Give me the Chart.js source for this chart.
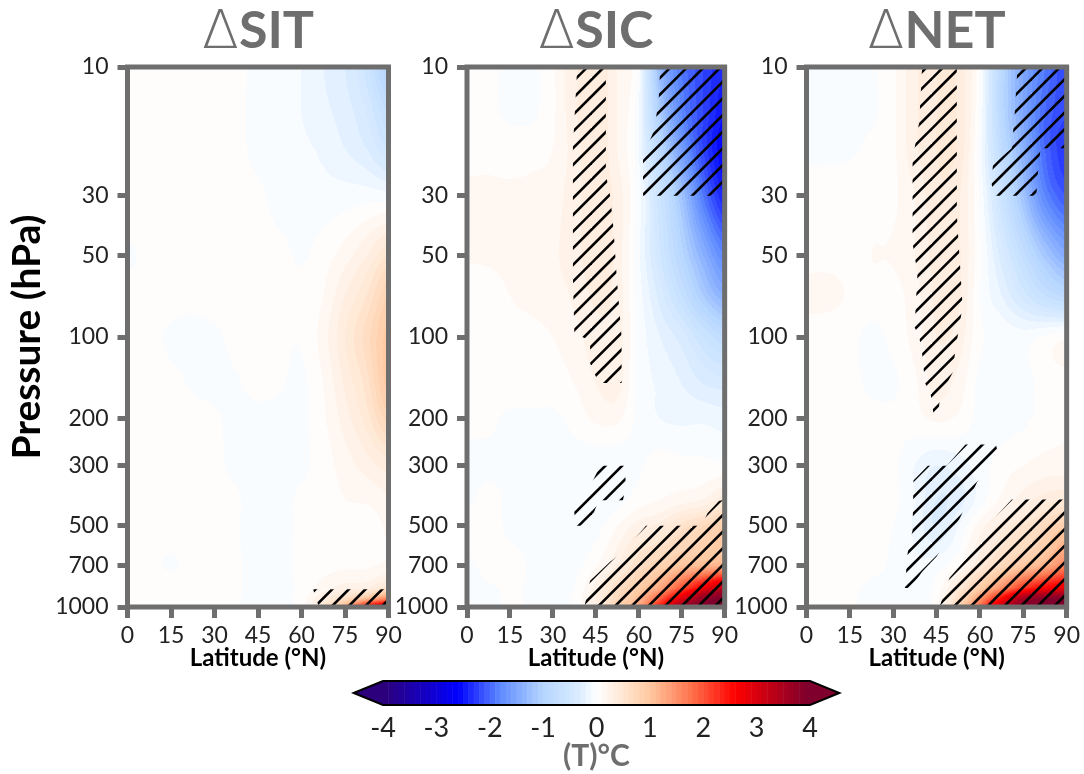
<!DOCTYPE html>
<html>
<head>
<meta charset="utf-8">
<title>Temperature response</title>
<script src="https://cdn.jsdelivr.net/npm/chart.js@4"></script>
<style>
  html, body { margin: 0; padding: 0; background: #fff; }
  body { width: 1084px; height: 774px; position: relative; overflow: hidden; }
  canvas { position: absolute; }
</style>
</head>
<body>
<canvas id="panelSit" width="412" height="680" style="left:0;top:0;width:412px;height:680px"></canvas>
<canvas id="panelSic" width="350" height="680" style="left:392px;top:0;width:350px;height:680px"></canvas>
<canvas id="panelNet" width="352" height="680" style="left:732px;top:0;width:352px;height:680px"></canvas>
<canvas id="colorBar" width="510" height="104" style="left:340px;top:670px;width:510px;height:104px"></canvas>
<script>
const latitudes = [0, 7.5, 15, 22.5, 30, 37.5, 45, 52.5, 60, 67.5, 75, 82.5, 90];
const levels = [10, 15, 20, 30, 50, 70, 100, 150, 200, 300, 400, 500, 700, 850, 925, 1000];
const latTicks = [0, 15, 30, 45, 60, 75, 90];
const pressureTicks = [10, 30, 50, 100, 200, 300, 500, 700, 1000];
const barTicks = [-4, -3, -2, -1, 0, 1, 2, 3, 4];

// one row per pressure level, one column per latitude
const sitValues = [
  [.05, .05, .05, .05, .05, .04, -.04, -.06, -.1, -.2, -.3, -.55, -1],
  [.05, .05, .05, .05, .05, .03, -.04, -.06, -.1, -.17, -.25, -.4, -.7],
  [.05, .05, .05, .05, .05, .03, -.03, -.05, -.08, -.12, -.2, -.3, -.5],
  [.05, .05, .05, .05, .05, .04, .02, -.04, -.06, -.06, -.05, -.04, -.05],
  [-.01, .02, .05, .05, .05, .05, .05, .03, -.01, .05, .15, .3, .5],
  [.03, .05, .05, .03, .05, .05, .05, .05, .02, .1, .3, .5, .8],
  [.05, .04, -.02, -.03, -.02, .03, .05, .03, .01, .15, .4, .65, .95],
  [.05, .05, .03, -.01, -.02, -.01, .03, .01, -.02, .1, .32, .55, .95],
  [.05, .05, .04, .03, .01, -.02, -.03, -.03, -.02, .08, .25, .45, .75],
  [.05, .05, .05, .04, .02, -.02, -.03, -.03, -.02, .05, .15, .25, .35],
  [.05, .05, .05, .04, .03, .01, -.04, -.03, .02, .06, .1, .12, .18],
  [.05, .05, .05, .04, .03, .01, -.06, -.03, .02, .06, .08, .04, .12],
  [.05, .03, -.01, .03, .03, .01, -.03, -.02, .02, .06, .08, .08, .12],
  [.05, .05, .05, .04, .03, .01, -.03, -.02, .02, .15, .25, .3, .5],
  [.03, .05, .05, .04, .03, .01, -.04, -.03, .05, .3, .6, 1, 1.5],
  [.03, .05, .05, .04, .03, .01, -.06, -.04, .05, .5, 1.2, 2.5, 3.2]
];
const sicValues = [
  [.05, .03, -.03, -.03, .08, .28, .38, .2, -.05, -1.3, -1.9, -2.2, -2.4],
  [.05, .03, -.02, -.02, .08, .28, .38, .2, -.1, -1.1, -1.8, -2.2, -2.5],
  [.08, .08, .07, .07, .1, .25, .38, .2, -.1, -.9, -1.6, -2.2, -2.6],
  [.11, .11, .11, .12, .15, .26, .36, .26, -.05, -.6, -1.2, -1.9, -2.4],
  [.11, .11, .12, .14, .18, .26, .36, .26, -.08, -.5, -.95, -1.4, -1.8],
  [.05, .07, .1, .12, .15, .22, .32, .26, -.05, -.35, -.7, -1.1, -1.4],
  [.08, .08, .08, .08, .1, .16, .26, .26, -.03, -.2, -.35, -.6, -.8],
  [.06, .06, .06, .06, .06, .1, .2, .24, -.03, -.12, -.2, -.3, -.35],
  [.02, .02, -.02, -.02, -.02, .03, .12, .12, -.03, -.1, -.12, -.12, -.15],
  [-.02, -.02, -.02, -.02, -.02, -.05, -.08, -.08, -.02, .05, .03, .03, .02],
  [-.02, .03, -.02, -.03, -.03, -.06, -.08, -.04, .05, .1, .15, .2, .35],
  [.04, .05, -.02, -.02, -.03, -.05, -.04, .1, .25, .35, .55, .7, .9],
  [-.02, .03, .03, -.01, -.03, -.03, .08, .3, .6, .8, 1, 1.1, 1.2],
  [-.04, -.01, .01, -.01, -.02, 0, .25, .6, .9, 1.3, 2, 2.7, 3.3],
  [-.05, -.02, .01, -.01, -.02, .02, .3, .7, 1.1, 1.9, 2.9, 3.7, 3.9],
  [-.05, -.03, .01, -.01, -.02, .03, .3, .8, 1.3, 2.4, 3.7, 3.9, 3.95]
];
const netValues = [
  [-.03, -.03, -.03, -.02, .08, .28, .4, .38, 0, -.9, -1.5, -1.9, -2.2],
  [-.02, -.02, -.03, -.02, .08, .28, .4, .38, -.02, -.9, -1.5, -2, -2.2],
  [-.03, -.03, -.02, .03, .08, .28, .4, .38, -.05, -.8, -1.4, -2, -2.3],
  [.07, .07, .07, .07, .08, .2, .38, .32, -.02, -.6, -1.2, -1.8, -2.1],
  [.07, .07, .07, .1, .11, .2, .34, .32, .02, -.35, -.75, -1.15, -1.45],
  [.13, .13, .09, .07, .06, .16, .32, .32, 0, -.2, -.45, -.7, -.85],
  [.05, .04, .03, -.03, .03, .14, .3, .26, .02, -.02, -.05, .02, .08],
  [.04, .04, .03, -.02, -.02, .08, .24, .16, -.03, -.05, -.03, .03, .06],
  [.03, .03, .03, .03, .03, .06, .12, .08, -.03, -.05, -.02, .04, .08],
  [.03, .03, .03, .03, .02, -.1, -.2, -.15, -.05, .05, .1, .14, .15],
  [.03, .03, .03, .03, .03, -.1, -.3, -.25, -.05, .12, .25, .35, .4],
  [.03, .03, .03, .03, 0, -.12, -.3, -.1, .15, .35, .5, .7, .9],
  [.03, .03, .03, .03, -.02, -.08, -.05, .08, .4, .7, .95, 1.2, 1.6],
  [.03, .03, .02, -.02, -.03, -.03, .03, .4, .9, 1.5, 2.2, 2.6, 2.8],
  [.03, .03, .01, -.02, -.03, -.02, .05, .6, 1.4, 2.5, 3.5, 3.8, 3.85],
  [.03, .03, .01, -.02, -.03, -.02, .05, .8, 1.8, 3.2, 3.8, 3.9, 3.95]
];

// significance regions as [latitude, pressure] outlines
const sitHatch = [
  [[64, 860], [90, 860], [90, 1000], [66, 1000]]
];
const sicHatch = [
  [[38.5, 10], [48.5, 10], [48.5, 25], [50, 30], [51.2, 40], [52.3, 60], [54, 100], [54, 148], [46, 148], [43, 125], [43, 103], [37.5, 97], [37, 60], [37, 20]],
  [[67.5, 10], [90, 10], [90, 30], [61.5, 30], [61.5, 21.5], [65.5, 17], [67, 13]],
  [[46.5, 300], [55, 300], [55.5, 350], [54.5, 402], [46, 402], [43.5, 470], [42, 500], [38, 500], [37, 402], [41, 395], [44, 340]],
  [[90, 400], [90, 1000], [41, 1000], [43, 800], [50, 680], [55, 620], [62.5, 500], [82, 500], [84, 450], [88, 405]]
];
const netHatch = [
  [[40, 10], [52, 10], [52, 35], [54, 77], [51.5, 112], [50.5, 136], [47, 160], [46, 175], [45.5, 195], [44, 195], [43, 164], [41, 148], [40, 115], [39, 100], [37.4, 92], [38.4, 58], [36.7, 45], [36.7, 22], [39, 16]],
  [[73, 10], [90, 10], [90, 20], [81, 20], [80, 25], [79.5, 30], [65, 30], [64, 27], [64.5, 23], [71, 20], [72, 15]],
  [[55, 250], [65.5, 250], [66, 262], [59, 345], [53, 470], [45, 650], [40, 740], [36, 850], [34, 850], [35, 630], [36.7, 520], [37, 340], [42, 300], [48.5, 300]],
  [[71, 400], [90, 400], [90, 1000], [46, 1000], [49.5, 780], [56, 650], [62, 510], [67, 445]]
];

// colour scale, value then rgb
const colorStops = [
  [-4, [46, 0, 120]], [-2.6, [0, 0, 255]], [-1.8, [95, 139, 255]], [-1, [182, 214, 255]], [-.3, [220, 237, 255]], [0, [255, 255, 255]],
  [.5, [255, 230, 210]], [1, [255, 200, 160]], [1.8, [255, 111, 72]], [2.6, [255, 0, 0]], [4, [122, 0, 46]]
];

const gray = '#6e6e6e';
const labelFont = 'Lato, "Open Sans", sans-serif';

function colorFor(value) {
  // filled contours: one colour per 0.1 band
  const v = Math.max(-3.95, Math.min(3.95, (Math.floor(value * 10) + .5) / 10));
  let k = 0;
  while (k < colorStops.length - 2 && v > colorStops[k + 1][0]) k++;
  const [a, ca] = colorStops[k];
  const [b, cb] = colorStops[k + 1];
  const t = (v - a) / (b - a);
  return 'rgb(' + ca.map((c, n) => Math.round(c + (cb[n] - c) * t)).join(',') + ')';
}

// diagonal lines, three in a 50px tile so the spacing stays 16.67px
function makeHatch(phase) {
  const size = 50;
  const tile = document.createElement('canvas');
  tile.width = size;
  tile.height = size;
  const c = tile.getContext('2d');
  c.strokeStyle = '#000';
  c.lineWidth = 2.6;
  for (let k = -3; k <= 9; k++) {
    const d = phase + k * size / 3;
    c.beginPath();
    c.moveTo(d + 10, -10);
    c.lineTo(d - size - 10, size + 10);
    c.stroke();
  }
  return c.createPattern(tile, 'repeat');
}

// smooth curve through four neighbouring grid values
function spline(a, b, c, d, t) {
  return b + .5 * t * (c - a + t * (2 * a - 5 * b + 4 * c - d + t * (3 * (b - c) + d - a)));
}

function fieldAt(rows, j, i, ty, tx) {
  const rowAt = r => {
    const row = rows[Math.max(0, Math.min(rows.length - 1, r))];
    const n = row.length - 1;
    return spline(row[Math.max(0, i - 1)], row[i], row[i + 1], row[Math.min(n, i + 2)], tx);
  };
  return spline(rowAt(j - 1), rowAt(j), rowAt(j + 1), rowAt(j + 2), ty);
}

const fieldPlugin = {
  id: 'field',
  beforeDatasetsDraw(chart) {
    const { ctx, scales: { x, y } } = chart;
    const rows = chart.config.options.plugins.field.rows;
    for (let j = 0; j < levels.length - 1; j++) {
      const y0 = y.getPixelForValue(levels[j]);
      const y1 = y.getPixelForValue(levels[j + 1]);
      for (let i = 0; i < latitudes.length - 1; i++) {
        const x0 = x.getPixelForValue(latitudes[i]);
        const x1 = x.getPixelForValue(latitudes[i + 1]);
        for (let py = Math.floor(y0); py < Math.floor(y1); py++) {
          const ty = (py + .5 - y0) / (y1 - y0);
          for (let px = Math.floor(x0); px < Math.floor(x1); px++) {
            const tx = (px + .5 - x0) / (x1 - x0);
            ctx.fillStyle = colorFor(fieldAt(rows, j, i, ty, tx));
            ctx.fillRect(px, py, 1, 1);
          }
        }
      }
    }
  },
  afterDraw(chart) {
    // spine on all four sides, then the panel heading
    const { ctx, chartArea: a } = chart;
    const word = chart.config.options.plugins.field.word;
    ctx.save();
    ctx.strokeStyle = gray;
    ctx.lineWidth = 5;
    ctx.strokeRect(a.left, a.top, a.right - a.left, a.bottom - a.top);
    ctx.fillStyle = gray;
    ctx.textBaseline = 'alphabetic';
    const deltaFont = '200 54px "DejaVu Sans"';
    const wordFont = 'bold 52px ' + labelFont;
    ctx.font = deltaFont;
    const dw = ctx.measureText('Δ').width;
    ctx.font = wordFont;
    const ww = ctx.measureText(word).width;
    const start = (a.left + a.right) / 2 - (dw + ww) / 2;
    ctx.fillText(word, start + dw, 48);
    ctx.font = deltaFont;
    ctx.fillText('Δ', start, 48);
    ctx.restore();
  }
};

function makePanel(id, word, rows, hatch, phase, leftWidth, rightPad, showPressureTitle) {
  const ctx = document.getElementById(id).getContext('2d');
  const pattern = makeHatch(phase);
  const datasets = hatch.map(outline => ({
    data: outline.map(p => ({ x: p[0], y: p[1] })),
    showLine: true,
    fill: 'shape',
    backgroundColor: pattern,
    borderWidth: 0,
    pointRadius: 0
  }));
  return new Chart(ctx, {
    type: 'scatter',
    data: { datasets },
    plugins: [fieldPlugin],
    options: {
      responsive: false,
      animation: false,
      events: [],
      layout: { padding: { top: 67, right: rightPad, bottom: 10, left: 0 } },
      plugins: {
        legend: { display: false },
        tooltip: { enabled: false },
        field: { rows, word }
      },
      scales: {
        x: {
          type: 'linear',
          min: 0,
          max: 90,
          afterFit: s => { s.height = 63; },
          afterBuildTicks: s => { s.ticks = latTicks.map(v => ({ value: v })); },
          border: { display: false },
          grid: { drawOnChartArea: false, color: gray, lineWidth: 5, tickLength: 11 },
          ticks: { color: '#222', font: { family: labelFont, size: 23 }, padding: 4, maxRotation: 0, autoSkip: false },
          title: {
            display: true,
            text: 'Latitude (°N)',
            color: '#000',
            font: { family: labelFont, size: 24, weight: 'bold', lineHeight: 1 },
            padding: 0
          }
        },
        y: {
          type: 'logarithmic',
          reverse: true,
          min: 10,
          max: 1000,
          afterFit: s => { s.width = leftWidth; },
          afterBuildTicks: s => { s.ticks = pressureTicks.map(v => ({ value: v })); },
          border: { display: false },
          grid: { drawOnChartArea: false, color: gray, lineWidth: 5, tickLength: 10 },
          ticks: { color: '#222', font: { family: labelFont, size: 23 }, padding: 9, autoSkip: false, callback: v => String(v) },
          title: {
            display: showPressureTitle,
            text: 'Pressure (hPa)',
            color: '#000',
            font: { family: labelFont, size: 39, weight: 'bold', lineHeight: 1 },
            padding: { top: 8, bottom: 0 }
          }
        }
      }
    }
  });
}

makePanel('panelSit', 'SIT', sitValues, sitHatch, 4.8, 127.5, 23.5, true);
makePanel('panelSic', 'SIC', sicValues, sicHatch, 12.5, 75, 15, false);
makePanel('panelNet', 'NET', netValues, netHatch, 11.8, 74.5, 17, false);

// colour bar, one band per 0.1 between -4 and 4
const barBands = [];
for (let b = -40; b < 40; b++) barBands.push(b / 10);
const barOverflow = .55;

const barPlugin = {
  id: 'barFill',
  afterDraw(chart) {
    const { ctx, chartArea: a, scales: { x } } = chart;
    barBands.forEach(b => {
      const x0 = x.getPixelForValue(b);
      const x1 = x.getPixelForValue(b + .1);
      ctx.fillStyle = colorFor(b + .05);
      ctx.fillRect(x0, a.top, x1 - x0 + .5, a.bottom - a.top);
    });
    const mid = (a.top + a.bottom) / 2;
    const tipL = x.getPixelForValue(-4 - barOverflow);
    const tipR = x.getPixelForValue(4 + barOverflow);
    ctx.fillStyle = colorFor(-3.95);
    ctx.beginPath();
    ctx.moveTo(a.left, a.top);
    ctx.lineTo(tipL, mid);
    ctx.lineTo(a.left, a.bottom);
    ctx.fill();
    ctx.fillStyle = colorFor(3.95);
    ctx.beginPath();
    ctx.moveTo(a.right, a.top);
    ctx.lineTo(tipR, mid);
    ctx.lineTo(a.right, a.bottom);
    ctx.fill();
    ctx.strokeStyle = '#000';
    ctx.lineWidth = 2;
    ctx.beginPath();
    ctx.moveTo(tipL, mid);
    ctx.lineTo(a.left, a.top);
    ctx.lineTo(a.right, a.top);
    ctx.lineTo(tipR, mid);
    ctx.lineTo(a.right, a.bottom);
    ctx.lineTo(a.left, a.bottom);
    ctx.closePath();
    ctx.stroke();
  }
};

new Chart(document.getElementById('colorBar').getContext('2d'), {
  type: 'scatter',
  data: { datasets: [{ data: barBands.map(b => ({ x: b, y: .5 })), pointRadius: 0 }] },
  plugins: [barPlugin],
  options: {
    responsive: false,
    animation: false,
    events: [],
    layout: { padding: { top: 11, right: 40, bottom: 0, left: 43 } },
    plugins: { legend: { display: false }, tooltip: { enabled: false } },
    scales: {
      y: { display: false, min: 0, max: 1 },
      x: {
        type: 'linear',
        min: -4,
        max: 4,
        afterFit: s => { s.height = 69; },
        afterBuildTicks: s => { s.ticks = barTicks.map(v => ({ value: v })); },
        border: { display: false },
        grid: { display: false },
        ticks: { color: '#222', font: { family: labelFont, size: 27 }, padding: -1, maxRotation: 0, autoSkip: false },
        title: {
          display: true,
          text: '(T)°C',
          color: gray,
          font: { family: labelFont, size: 30, weight: 'bold', lineHeight: 1 },
          padding: 3
        }
      }
    }
  }
});
</script>
</body>
</html>
